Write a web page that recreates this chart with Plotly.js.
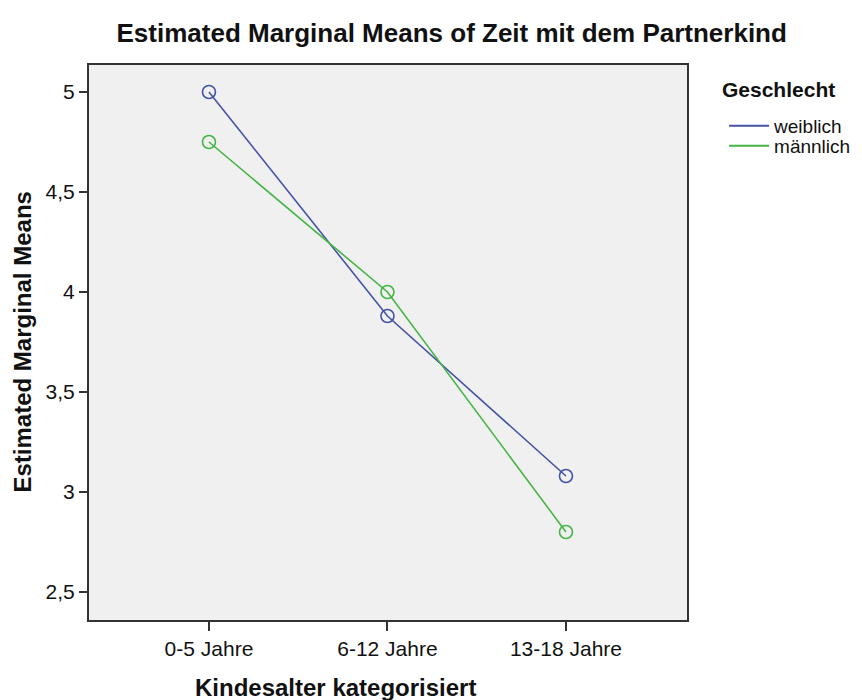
<!DOCTYPE html>
<html>
<head>
<meta charset="utf-8">
<script src="https://cdn.plot.ly/plotly-3.0.1.min.js"></script>
<style>html,body{margin:0;padding:0;background:#fff;}</style>
</head>
<body>
<div id="chart" style="width:862px;height:700px;"></div>
<script>
const categories = ["0-5 Jahre", "6-12 Jahre", "13-18 Jahre"];
const seriesNames = ["weiblich", "männlich"];
const weiblich = [5.0, 3.88, 3.08];
const maennlich = [4.75, 4.0, 2.8];
const yTickVals = [2.5, 3, 3.5, 4, 4.5, 5];
const yTickText = ["2,5", "3", "3,5", "4", "4,5", "5"];

const colors = ["#4653a6", "#45b545"];
const legendIds = ["legend", "legend2"];
const xIdx = categories.map((c, i) => i);
const allSeries = [weiblich, maennlich];

const traces = [];
allSeries.forEach((vals, k) => {
  traces.push({x: xIdx, y: vals, name: seriesNames[k], type: "scatter", mode: "lines+markers",
    showlegend: false,
    line: {color: colors[k], width: 1.6},
    marker: {symbol: "circle-open", size: 13, color: colors[k], line: {width: 1.6}}});
});
allSeries.forEach((vals, k) => {
  traces.push({x: [null], y: [null], name: seriesNames[k], type: "scatter", mode: "lines",
    showlegend: true, legend: legendIds[k], line: {color: colors[k], width: 2}});
});

const legendBase = {x: 1.062, xanchor: "left", yanchor: "top",
  font: {size: 19}, itemwidth: 40, bgcolor: "rgba(0,0,0,0)"};

const layout = {
  width: 862, height: 700,
  margin: {l: 89, r: 175, t: 65, b: 80, autoexpand: false},
  paper_bgcolor: "#ffffff",
  plot_bgcolor: "#f0f0f0",
  font: {family: "Liberation Sans, Arial, sans-serif", color: "#111", size: 20},
  title: {text: "<b>Estimated Marginal Means of Zeit mit dem Partnerkind</b>",
          x: 0.524, xanchor: "center", xref: "container", y: 0.953, yref: "container", yanchor: "middle",
          font: {size: 26, color: "#111"}},
  xaxis: {
    range: [-0.672, 2.678],
    tickvals: xIdx, ticktext: categories,
    ticks: "outside", ticklen: 9, tickwidth: 2, tickcolor: "#333",
    showgrid: false, zeroline: false,
    showline: true, linecolor: "#333", linewidth: 2, mirror: true,
    tickfont: {size: 21}
  },
  yaxis: {
    range: [2.36, 5.135],
    tickvals: yTickVals, ticktext: yTickText,
    ticks: "outside", ticklen: 8, tickwidth: 2, tickcolor: "#333",
    showgrid: false, zeroline: false,
    showline: true, linecolor: "#333", linewidth: 2, mirror: true,
    tickfont: {size: 21}
  },
  annotations: [
    {text: "<b>Kindesalter kategorisiert</b>", xref: "paper", yref: "paper",
     x: 0.413, y: -0.1225, xanchor: "center", yanchor: "middle", showarrow: false,
     font: {size: 24, color: "#111"}},
    {text: "<b>Estimated Marginal Means</b>", xref: "paper", yref: "paper",
     x: -0.112, y: 0.5, xanchor: "center", yanchor: "middle", showarrow: false,
     textangle: -90, font: {size: 24, color: "#111"}},
    {text: "<b>Geschlecht</b>", xref: "paper", yref: "paper",
     x: 1.055, y: 0.955, xanchor: "left", yanchor: "middle", showarrow: false,
     font: {size: 21, color: "#111"}}
  ],
  showlegend: true,
  legend: Object.assign({}, legendBase, {y: 0.9245}),
  legend2: Object.assign({}, legendBase, {y: 0.8885})
};

Plotly.newPlot("chart", traces, layout, {displayModeBar: false, staticPlot: true});
</script>
</body>
</html>
